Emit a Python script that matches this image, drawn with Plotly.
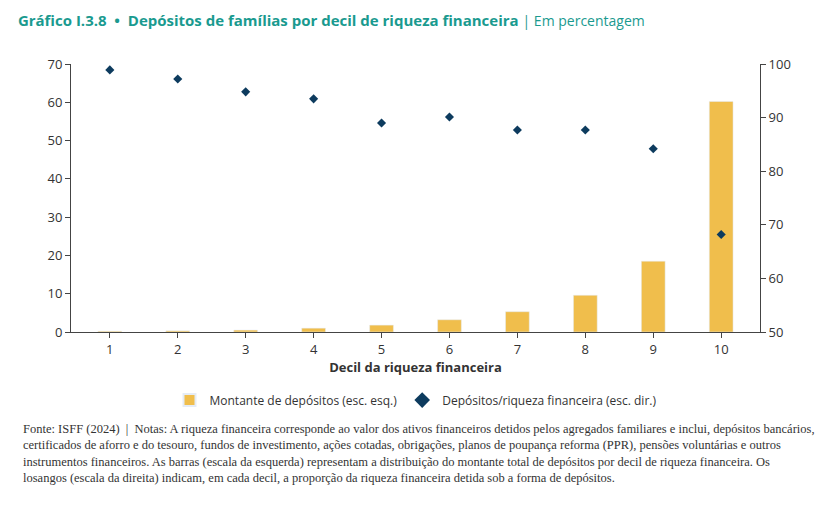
import plotly.graph_objects as go

decis = ["1", "2", "3", "4", "5", "6", "7", "8", "9", "10"]
montante = [0.2, 0.3, 0.5, 1.0, 1.8, 3.2, 5.3, 9.6, 18.5, 60.2]
rácio = [98.9, 97.2, 94.8, 93.5, 89.0, 90.1, 87.7, 87.7, 84.2, 68.2]

fig = go.Figure()
fig.add_trace(go.Bar(x=decis, y=montante, name="Montante de depósitos (esc. esq.)",
                     marker_color="#f0be4c", width=0.35))
fig.add_trace(go.Scatter(x=decis, y=rácio, yaxis="y2", mode="markers",
                         name="Depósitos/riqueza financeira (esc. dir.)",
                         marker=dict(symbol="diamond", size=7, color="#0d3b5e")))

fonte = ("Fonte: ISFF (2024)  |  Notas: A riqueza financeira corresponde ao valor dos ativos financeiros detidos pelos agregados familiares e inclui, depósitos bancários,<br>"
         "certificados de aforro e do tesouro, fundos de investimento, ações cotadas, obrigações, planos de poupança reforma (PPR), pensões voluntárias e outros<br>"
         "instrumentos financeiros. As barras (escala da esquerda) representam a distribuição do montante total de depósitos por decil de riqueza financeira. Os<br>"
         "losangos (escala da direita) indicam, em cada decil, a proporção da riqueza financeira detida sob a forma de depósitos.")

fig.update_layout(
    width=824, height=506, plot_bgcolor="white", paper_bgcolor="white",
    font=dict(family="Open Sans", size=12, color="#333"),
    margin=dict(l=63, r=72, t=63, b=174),
    bargap=0.6,
    title=dict(text="<b>Gráfico I.3.8  •  Depósitos de famílias por decil de riqueza financeira</b> <span style='font-size:14px'>| Em percentagem</span>",
               x=0.012, xanchor="left", y=0.985, yanchor="top",
               font=dict(size=15, color="#1a9a8f")),
    xaxis=dict(title=dict(text="<b>Decil da riqueza financeira</b>", standoff=2, font=dict(size=13)),
               showline=True, linecolor="#444", ticks="outside", tickcolor="#444",
               showgrid=False, tickfont=dict(size=13)),
    yaxis=dict(range=[0, 70], dtick=10, showgrid=False, zeroline=False,
               showline=True, linecolor="#444", ticks="outside", tickcolor="#444",
               tickfont=dict(size=13)),
    yaxis2=dict(range=[50, 100], dtick=10, overlaying="y", side="right",
                showgrid=False, showline=True, linecolor="#444", ticks="outside",
                tickcolor="#444", tickfont=dict(size=13)),
    legend=dict(orientation="h", x=0.5, xanchor="center", y=-0.2, yanchor="top",
                font=dict(size=12), itemsizing="constant"),
    annotations=[dict(text=fonte, xref="paper", yref="paper", x=-0.073, y=-0.33,
                      xanchor="left", yanchor="top", showarrow=False, align="left",
                      font=dict(size=12.5, family="Liberation Sans Narrow"))],
)
fig.update_layout(margin=dict(t=56, b=182))
fig.write_html("out.html")
